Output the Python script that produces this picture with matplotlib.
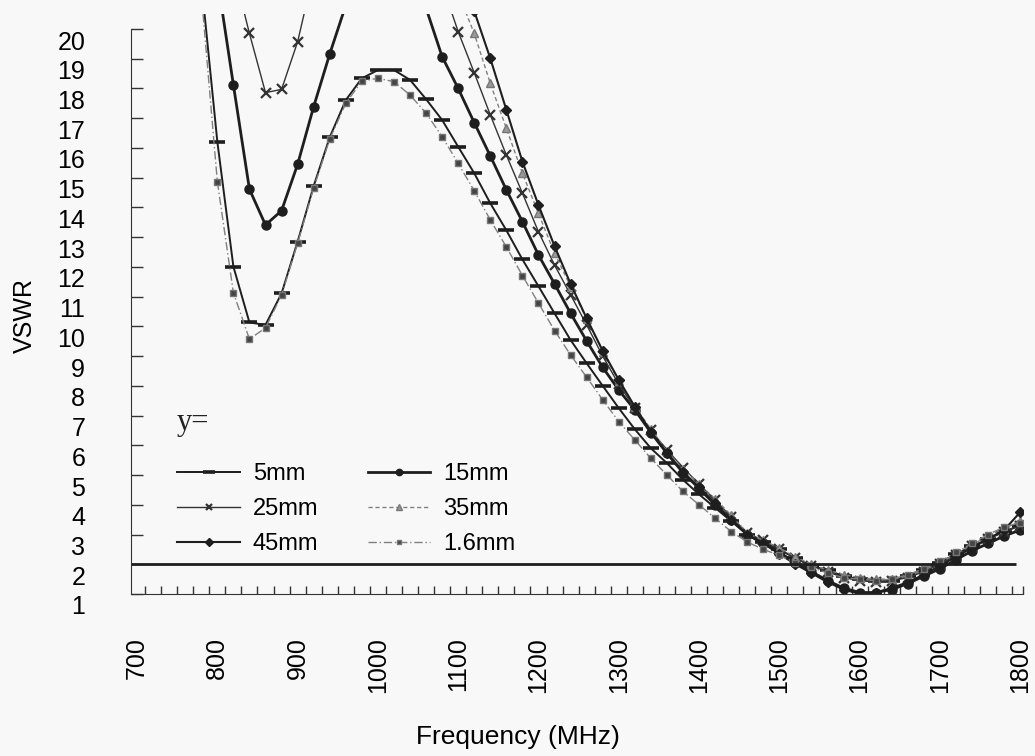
import numpy as np
import matplotlib.pyplot as plt
import matplotlib.transforms as mtransforms

nan = np.nan

# frequency grid (MHz)
freq = list(range(700, 1801, 20))

# VSWR per feed position y (values above 20 only to route the lines off the top)
vswr_5mm = [nan, nan, nan, nan, 21.6, 16.21, 12.01, 10.13, 10.05, 11.11,
            12.85, 14.72, 16.36, 17.61, 18.34, 18.62, 18.62, 18.29, 17.64, 16.94,
            16.04, 15.15, 14.14, 13.23, 12.25, 11.35, 10.44, 9.54, 8.76, 8.0,
            7.25, 6.54, 5.90, 5.40, 4.84, 4.35, 3.9, 3.45, 3.0, 2.75,
            2.5, 2.2, 1.95, 1.8, 1.6, 1.5, 1.45, 1.45, 1.6, 1.8,
            2.05, 2.35, 2.6, 2.85, 3.1, 3.3]
vswr_15mm = [nan, nan, nan, nan, nan, 21.7, 18.12, 14.61, 13.41, 13.89,
             15.45, 17.39, 19.16, 20.8, nan, nan, nan, nan, 20.7, 19.07,
             18.0, 16.85, 15.73, 14.59, 13.52, 12.40, 11.43, 10.44, 9.51, 8.62,
             7.86, 7.19, 6.43, 5.73, 5.08, 4.55, 4.0, 3.5, 3.0, 2.7,
             2.4, 2.05, 1.75, 1.45, 1.2, 1.05, 1.05, 1.15, 1.35, 1.6,
             1.85, 2.15, 2.45, 2.7, 2.95, 3.15]
vswr_25mm = [nan, nan, nan, nan, nan, nan, 22.0, 19.85, 17.86, 17.97,
             19.57, 21.9, nan, nan, nan, nan, nan, nan, nan, 21.5,
             19.91, 18.53, 17.11, 15.76, 14.48, 13.18, 12.06, 11.06, 10.05, 9.0,
             8.05, 7.25, 6.5, 5.85, 5.25, 4.7, 4.15, 3.6, 3.05, 2.8,
             2.5, 2.2, 1.95, 1.75, 1.55, 1.45, 1.4, 1.45, 1.55, 1.75,
             2.0, 2.3, 2.6, 2.85, 3.1, 3.3]
vswr_35mm = [nan, nan, nan, nan, nan, nan, nan, nan, nan, nan,
             nan, nan, nan, nan, nan, nan, nan, nan, nan, nan,
             21.2, 19.85, 18.17, 16.66, 15.15, 13.80, 12.46, 11.34, 10.25, 9.15,
             8.15, 7.3, 6.55, 5.8, 5.2, 4.7, 4.2, 3.65, 3.05, 2.8,
             2.55, 2.25, 2.0, 1.8, 1.65, 1.55, 1.5, 1.5, 1.6, 1.8,
             2.05, 2.35, 2.65, 2.95, 3.2, 3.45]
vswr_45mm = [nan, nan, nan, nan, nan, nan, nan, nan, nan, nan,
             nan, nan, nan, nan, nan, nan, nan, nan, nan, nan,
             nan, 20.6, 19.01, 17.28, 15.54, 14.08, 12.70, 11.43, 10.27, 9.18,
             8.2, 7.3, 6.46, 5.75, 5.1, 4.6, 4.05, 3.5, 3.0, 2.7,
             2.35, 2.0, 1.7, 1.4, 1.15, 1.0, 1.05, 1.2, 1.4, 1.65,
             1.95, 2.25, 2.55, 2.85, 3.15, 3.75]
vswr_1p6mm = [nan, nan, nan, nan, 21.2, 14.87, 11.13, 9.57, 9.95, 11.05,
              12.8, 14.65, 16.3, 17.5, 18.25, 18.34, 18.23, 17.78, 17.17, 16.38,
              15.48, 14.56, 13.58, 12.67, 11.71, 10.78, 9.86, 9.04, 8.29, 7.53,
              6.80, 6.18, 5.56, 5.0, 4.45, 4.0, 3.55, 3.1, 2.75, 2.5,
              2.3, 2.05, 1.9, 1.7, 1.55, 1.5, 1.45, 1.5, 1.65, 1.85,
              2.1, 2.4, 2.7, 3.0, 3.25, 3.4]

labels = ["5mm", "15mm", "25mm", "35mm", "45mm", "1.6mm"]

plt.rcParams['font.family'] = ['Liberation Sans', 'DejaVu Sans']

fig = plt.figure(figsize=(10.35, 7.56), dpi=100, facecolor='#f8f8f8')
ax = fig.add_axes([0.1266, 0.2143, 0.8618, 0.767])
ax.set_facecolor('#f8f8f8')

ink = '#1e1e1e'
gray = '#808080'
lines = []
lines += ax.plot(freq, vswr_5mm, color=ink, lw=1.4, marker='_', ms=12, mew=2.6, label=labels[0])
lines += ax.plot(freq, vswr_15mm, color=ink, lw=2.0, marker='o', ms=6.5, label=labels[1])
lines += ax.plot(freq, vswr_25mm, color='#333333', lw=1.0, marker='x', ms=6.5, mew=1.6, label=labels[2])
lines += ax.plot(freq, vswr_35mm, color=gray, lw=1.0, ls=(0, (3, 2)), marker='^', ms=6,
                 mfc='#999999', mec='#777777', label=labels[3])
lines += ax.plot(freq, vswr_45mm, color=ink, lw=1.5, marker='D', ms=5.5, label=labels[4])
lines += ax.plot(freq, vswr_1p6mm, color=gray, lw=1.0, ls=(0, (6, 2, 1, 2)), marker='s', ms=5,
                 mfc='#444444', mec='#777777', label=labels[5])

# VSWR = 2 reference line
ax.hlines(2, 692.5, 1795, color=ink, lw=2)

ax.set_xlim(692.5, 1803.5)
ax.set_ylim(1, 20.5)

for s in ['top', 'right']:
    ax.spines[s].set_visible(False)
ax.spines['left'].set_bounds(1, 20)
ax.spines['left'].set_color('#333333')
ax.spines['bottom'].set_color('#333333')

ax.set_yticks(range(1, 21))
ax.tick_params(axis='y', direction='in', length=8.5, width=1, color='#333333',
               labelsize=18, pad=33)
off = mtransforms.ScaledTranslation(0, -0.11, fig.dpi_scale_trans)
for lbl in ax.get_yticklabels():
    lbl.set_transform(lbl.get_transform() + off)

ax.set_xticks(range(700, 1801, 100))
ax.set_xticks(list(range(710, 1791, 20)) + [1803.5], minor=True)
ax.tick_params(axis='x', which='major', length=0, labelsize=18, pad=31, labelrotation=90)
ax.tick_params(axis='x', which='minor', direction='in', length=6, width=1, color='#333333')

ax.set_xlabel('Frequency (MHz)', fontsize=19, va='center')
ax.xaxis.set_label_coords(0.434, -0.246)
ax.set_ylabel('VSWR', fontsize=18)
ax.yaxis.set_label_coords(-0.105, 0.48)

# legend heading drawn as its own text, legend rows below it
ax.text(0.0516, 0.295, 'y=', transform=ax.transAxes, fontsize=22, va='center',
        family=['Liberation Serif', 'DejaVu Serif'], color='#222222')

# row-major order in a 2-column legend
order = [0, 2, 4, 1, 3, 5]
leg = ax.legend([lines[i] for i in order], [labels[i] for i in order],
                ncol=2, loc='upper left', bbox_to_anchor=(0.028, 0.262),
                frameon=False, fontsize=17,
                handlelength=2.65, handletextpad=0.55, columnspacing=2.1,
                labelspacing=0.55, numpoints=1, markerscale=0.7)

fig.savefig('out.png', dpi=100, facecolor=fig.get_facecolor())
